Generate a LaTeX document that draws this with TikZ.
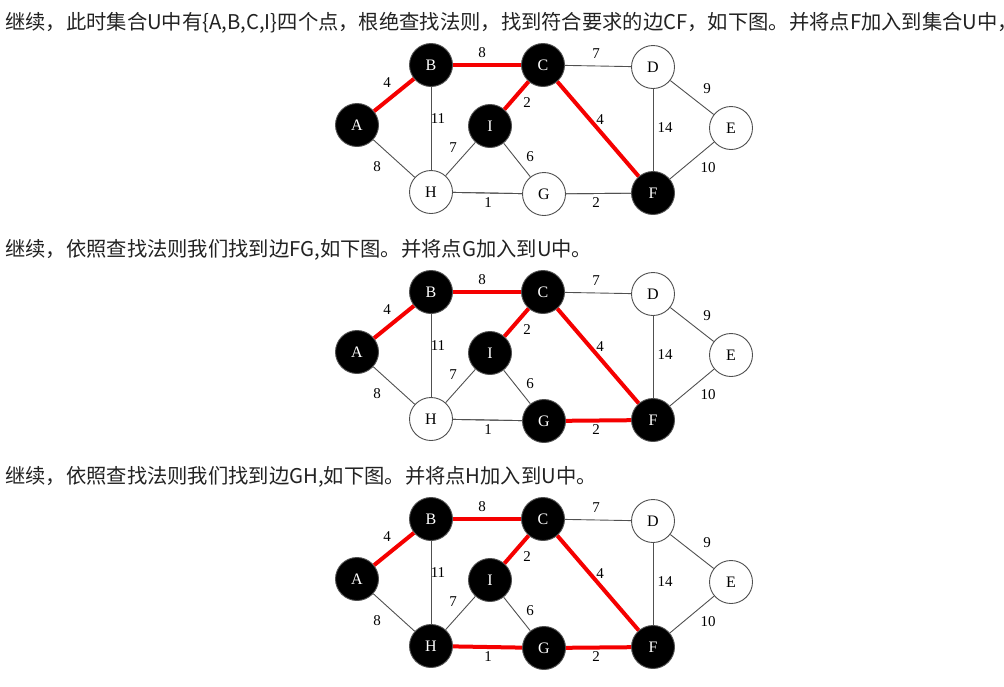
\documentclass[tikz,border=0pt]{standalone}
\usepackage{fontspec}
\setmainfont{Liberation Serif}
\newfontfamily\cjkfont{Noto Sans CJK SC}
\definecolor{edgegray}{RGB}{80,80,80}
\definecolor{mstred}{RGB}{245,0,0}
\definecolor{notegray}{RGB}{34,34,34}
\tikzset{
	vtx/.style={circle, draw=edgegray, line width=0.9pt, minimum size=43pt, inner sep=0pt, font=\fontsize{16}{18}\selectfont},
	inU/.style={fill=black, text=white},
	outU/.style={fill=white, text=black},
	edge/.style={draw=edgegray, line width=0.9pt},
	mst/.style={draw=mstred, line width=4pt},
	lbl/.style={inner sep=0pt, font=\fontsize{15}{17}\selectfont},
	note/.style={anchor=base west, inner sep=0pt, text=notegray, font=\cjkfont\fontsize{20.3}{24}\selectfont}
}
\begin{document}
\begin{tikzpicture}[x=1pt,y=-1pt]
		\useasboundingbox (0,0) rectangle (1004,686);
		%The three steps of the text
		\node [note] (note1) at (5,29) {继续，此时集合U中有\{A,B,C,I\}四个点，根绝查找法则，找到符合要求的边CF，如下图。并将点F加入到集合U中，};
		\node [note] (note2) at (5,256) {继续，依照查找法则我们找到边FG,如下图。并将点G加入到U中。};
		\node [note] (note3) at (5,483) {继续，依照查找法则我们找到边GH,如下图。并将点H加入到U中。};
		%One graph for each step
		\foreach \row/\gy/\stG/\stH/\stGF/\stHG in {1/0/outU/outU/edge/edge, 2/227/inU/outU/mst/edge, 3/454/inU/inU/mst/mst} {
			\begin{scope}[shift={(0,\gy)}]
				%Vertices
				\node [vtx,inU] (A\row) at (357,125) {A};
				\node [vtx,inU] (B\row) at (431,65) {B};
				\node [vtx,inU] (C\row) at (543,65) {C};
				\node [vtx,outU] (D\row) at (653,67) {D};
				\node [vtx,outU] (E\row) at (731,128) {E};
				\node [vtx,inU] (F\row) at (653,193) {F};
				\node [vtx,\stG] (G\row) at (544,194) {G};
				\node [vtx,\stH] (H\row) at (431,192) {H};
				\node [vtx,inU] (I\row) at (490,126) {I};
				%Edges with their weights
				\foreach \u/\v/\w/\lx/\ly in {A/B/4/387/83, B/C/8/482/53, C/D/7/596/54, D/E/9/707/89, B/H/11/438/119, C/I/2/527/103, C/F/4/600/120, D/F/14/665/128, H/I/7/453/148, I/G/6/530/157, A/H/8/377/167, E/F/10/708/168, H/G/1/488/203, G/F/2/596/203} {
					\draw [edge] (\u\row) -- (\v\row);
					\node [lbl] (w\u\v\row) at (\lx,\ly) {\w};
				}
				%Edges already in the tree
				\foreach \u/\v in {A/B, B/C, C/I, C/F} {
					\draw [mst] (\u\row) -- (\v\row);
				}
				\draw [\stGF] (G\row) -- (F\row);
				\draw [\stHG] (H\row) -- (G\row);
			\end{scope}
		}
\end{tikzpicture}
\end{document}
